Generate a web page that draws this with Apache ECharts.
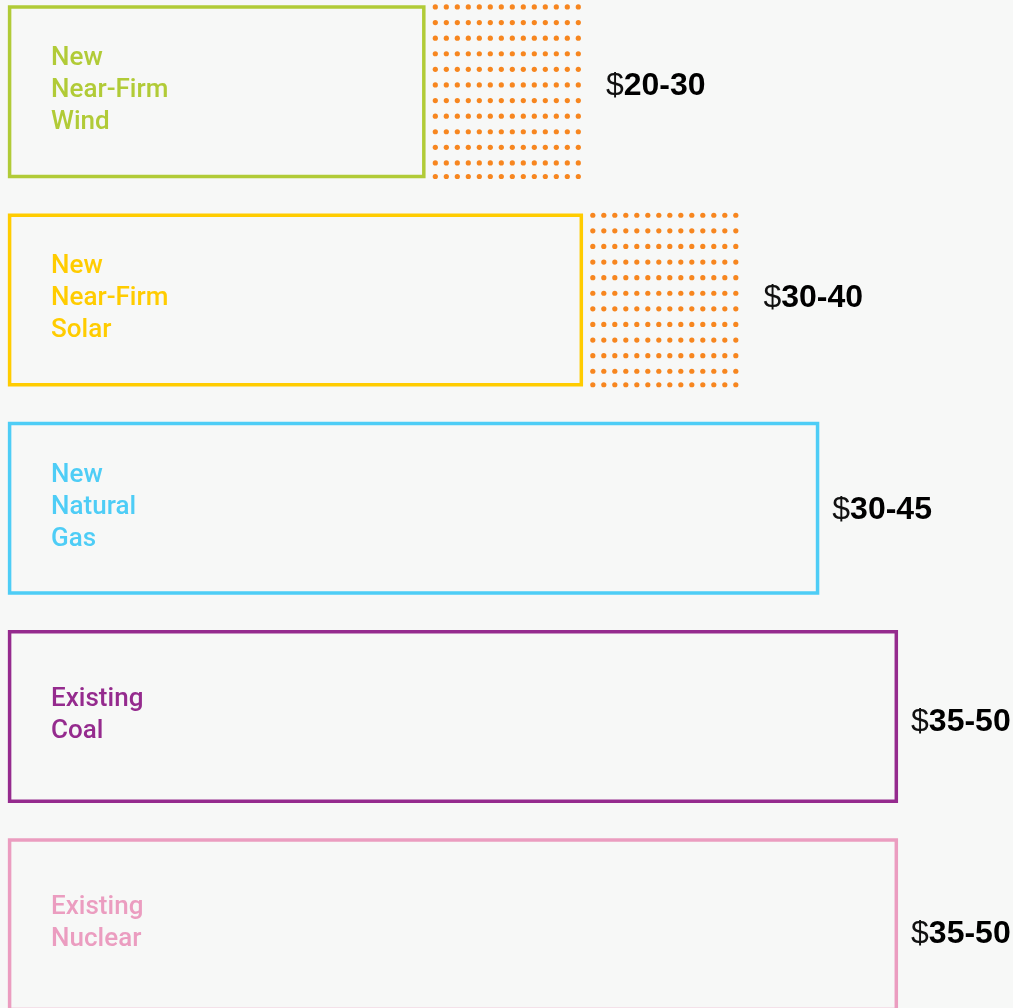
<!DOCTYPE html>
<html>
<head>
<meta charset="utf-8">
<script src="https://cdn.jsdelivr.net/npm/echarts@6/dist/echarts.min.js"></script>
<style>
  html, body { margin: 0; padding: 0; background: #f7f8f7; }
  #chart { width: 1013px; height: 1008px; }
</style>
</head>
<body>
<div id="chart"></div>
<script>
// ---- data ----
const categories = ['New\nNear-Firm\nWind', 'New\nNear-Firm\nSolar', 'New\nNatural\nGas', 'Existing\nCoal', 'Existing\nNuclear'];
const lowCost = [20, 30, 30, 35, 35];
const highCost = [30, 40, 45, 50, 50];
const hasFirmingRange = [1, 1, 0, 0, 0];
const priceLabels = ['20-30', '30-40', '30-45', '35-50', '35-50'];

// ---- style ----
const rowColors = ['#b1cb37', '#ffcc00', '#4ecdf6', '#952b8e', '#eb9dc0'];
const dotColor = '#f7861f';
const FONT = '"Liberation Sans", Arial, Helvetica, sans-serif';
const NAME_FONT = 'Roboto, "Liberation Sans", Arial, sans-serif';
const AXIS_MIN = -6.3;

const chart = echarts.init(document.getElementById('chart'), null, { renderer: 'canvas' });

function renderItem(params, api) {
  const i = api.value(0);
  const low = api.value(1);
  const high = api.value(2);
  const dotted = api.value(3) === 1;
  const color = rowColors[i];
  const bandH = api.size([0, 1])[1];
  const h = bandH * 0.814;
  const start = api.coord([AXIS_MIN, i]);
  const cy = start[1];
  const top = cy - h / 2;
  const boxEnd = api.coord([dotted ? low : high, i])[0];
  const children = [];
  children.push({
    type: 'rect',
    shape: { x: start[0], y: top, width: boxEnd - start[0], height: h },
    style: { fill: 'none', stroke: color, lineWidth: 3.5 }
  });
  children.push({
    type: 'text',
    style: {
      text: categories[i], x: start[0] + 41.5, y: cy - 1,
      verticalAlign: 'middle', align: 'left',
      fill: color, fontSize: 26, fontWeight: 500, fontFamily: NAME_FONT, lineHeight: 32
    }
  });
  let rightEdge = boxEnd + 1.75;
  let gap = 13;
  if (dotted) {
    const x0 = boxEnd + 10;
    const x1 = api.coord([high, i])[0] - 3;
    const ys = [];
    for (let y = top; y < top + h - 8; y += 15.6) ys.push(y);
    ys.push(top + h);
    for (let x = x1; x >= x0 - 0.5; x -= 11) {
      for (const y of ys) {
        children.push({
          type: 'circle',
          shape: { cx: x, cy: y, r: 2.6 },
          style: { fill: dotColor }
        });
      }
    }
    rightEdge = x1 + 2.6;
    gap = 25;
  }
  children.push({
    type: 'text',
    style: {
      text: '{a|$}{b|' + priceLabels[i] + '}',
      x: rightEdge + gap, y: cy + 1.75 + (i - 2) * 3.6,
      verticalAlign: 'middle', align: 'left',
      rich: {
        a: { fontSize: 32, fontFamily: FONT, fontWeight: 'normal', fill: '#111111' },
        b: { fontSize: 32, fontFamily: FONT, fontWeight: 'bold', fill: '#000000' }
      }
    }
  });
  return { type: 'group', children: children };
}

const seriesData = categories.map((c, i) => [i, lowCost[i], highCost[i], hasFirmingRange[i]]);

chart.setOption({
  backgroundColor: '#f7f8f7',
  animation: false,
  grid: { left: 9.6, right: -9.3, top: -12.4, bottom: -20.9, outerBoundsMode: 'none', containLabel: false },
  xAxis: { type: 'value', min: AXIS_MIN, max: 58, show: false },
  yAxis: { type: 'category', data: categories, inverse: true, show: false },
  series: [{
    type: 'custom',
    renderItem: renderItem,
    encode: { x: [1, 2], y: 0 },
    data: seriesData,
    clip: false
  }]
});
</script>
</body>
</html>
